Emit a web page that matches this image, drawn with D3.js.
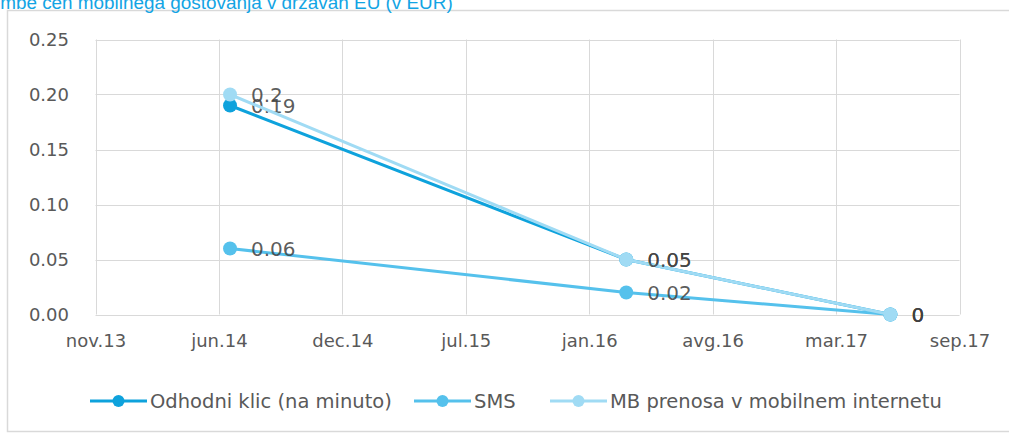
<!DOCTYPE html>
<html>
<head>
<meta charset="utf-8">
<script src="https://cdn.jsdelivr.net/npm/d3@7"></script>
<style>
  html, body { margin: 0; padding: 0; background: #fff; }
  svg { display: block; }
</style>
</head>
<body>
<svg id="chart" width="1009" height="433"></svg>
<script>
const title = "Spremembe cen mobilnega gostovanja v državah EU (v EUR)";
const dates = ["2014-06-26", "2016-03-29", "2017-05-31"];
const seriesNames = ["Odhodni klic (na minuto)", "SMS", "MB prenosa v mobilnem internetu"];
const odhodni = [0.19, 0.05, 0];
const sms = [0.06, 0.02, 0];
const mb = [0.2, 0.05, 0];
const seriesColors = ["#0ea2dc", "#55c1ec", "#a0dbf4"];
const xTickDates = ["2013-11-20", "2014-06-08", "2014-12-25", "2015-07-13", "2016-01-29", "2016-08-16", "2017-03-04", "2017-09-20"];
const xTickLabels = ["nov.13", "jun.14", "dec.14", "jul.15", "jan.16", "avg.16", "mar.17", "sep.17"];
const yTicks = [0, 0.05, 0.10, 0.15, 0.20, 0.25];

const series = [odhodni, sms, mb].map((vals, i) => ({
  name: seriesNames[i],
  color: seriesColors[i],
  values: vals.map((v, j) => ({ date: new Date(dates[j] + "T00:00:00Z"), value: v }))
}));

const svg = d3.select("#chart");
const FONT = "'DejaVu Sans', sans-serif";

// outer frame
svg.append("rect").attr("x", 7.5).attr("y", 10.5).attr("width", 1010).attr("height", 421)
  .attr("fill", "#fff").attr("stroke", "#d9d9d9").attr("stroke-width", 1.5);

// title (cut at left/top as in reference)
svg.append("text").attr("x", -66).attr("y", 8.5)
  .attr("font-family", "'Liberation Sans', Arial, sans-serif").attr("font-size", 18.9)
  .attr("fill", "#12a4e4").text(title);

const x = d3.scaleUtc()
  .domain([new Date(xTickDates[0] + "T00:00:00Z"), new Date(xTickDates[xTickDates.length - 1] + "T00:00:00Z")])
  .range([95.5, 959.5]);
const y = d3.scaleLinear().domain([0, 0.25]).range([314.5, 39.5]);

// gridlines
const grid = svg.append("g");
grid.selectAll("line.h").data(yTicks).join("line")
  .attr("x1", x.range()[0]).attr("x2", x.range()[1])
  .attr("y1", d => Math.round(y(d)) + 0.5).attr("y2", d => Math.round(y(d)) + 0.5)
  .attr("stroke", "#d9d9d9").attr("stroke-width", 1);
grid.selectAll("line.v").data(xTickDates).join("line")
  .attr("x1", d => Math.round(x(new Date(d + "T00:00:00Z"))) + 0.5)
  .attr("x2", d => Math.round(x(new Date(d + "T00:00:00Z"))) + 0.5)
  .attr("y1", y.range()[1]).attr("y2", y.range()[0])
  .attr("stroke", "#d9d9d9").attr("stroke-width", 1);

// y axis labels
const yAxis = d3.axisLeft(y).tickValues(yTicks).tickFormat(d3.format(".2f")).tickSize(0).tickPadding(0);
svg.append("g").attr("transform", "translate(69,0)").call(yAxis)
  .call(g => g.select(".domain").remove())
  .selectAll("text").attr("font-family", FONT).attr("font-size", 18).attr("fill", "#595959");

// x axis labels
const xAxis = d3.axisBottom(x)
  .tickValues(xTickDates.map(d => new Date(d + "T00:00:00Z")))
  .tickFormat((d, i) => xTickLabels[i]).tickSize(0).tickPadding(0);
svg.append("g").attr("transform", "translate(0,334)").call(xAxis)
  .call(g => g.select(".domain").remove())
  .selectAll("text").attr("font-family", FONT).attr("font-size", 18).attr("fill", "#595959");

// lines and points
const line = d3.line().x(d => x(d.date)).y(d => y(d.value));
const sg = svg.selectAll("g.series").data(series).join("g").attr("class", "series");
sg.append("path").attr("d", d => line(d.values)).attr("fill", "none")
  .attr("stroke", d => d.color).attr("stroke-width", 3);
sg.selectAll("circle").data(d => d.values.map(v => ({ ...v, color: d.color }))).join("circle")
  .attr("cx", d => x(d.date)).attr("cy", d => y(d.value)).attr("r", 7)
  .attr("fill", d => d.color);

// data labels
sg.selectAll("text.lbl").data(d => d.values).join("text").attr("class", "lbl")
  .attr("x", d => x(d.date) + 21).attr("y", d => y(d.value)).attr("dy", "0.36em")
  .attr("font-family", FONT).attr("font-size", 20).attr("fill", "#404040")
  .attr("fill-opacity", 0.85)
  .text(d => String(d.value));

// legend
const legendX = [90, 414, 550];
const lg = svg.selectAll("g.legend").data(series).join("g").attr("class", "legend")
  .attr("transform", (d, i) => `translate(${legendX[i]},401)`);
lg.append("line").attr("x1", 0).attr("x2", 57).attr("y1", 0).attr("y2", 0)
  .attr("stroke", d => d.color).attr("stroke-width", 3);
lg.append("circle").attr("cx", 28.5).attr("cy", 0).attr("r", 6).attr("fill", d => d.color);
lg.append("text").attr("x", 60).attr("y", 0).attr("dy", "0.35em")
  .attr("font-family", FONT).attr("font-size", 19.5).attr("fill", "#595959")
  .text(d => d.name);
</script>
</body>
</html>
